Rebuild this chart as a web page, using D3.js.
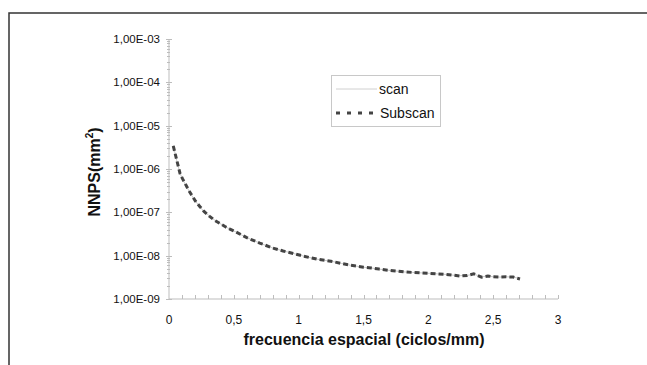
<!DOCTYPE html>
<html><head><meta charset="utf-8">
<script src="https://cdn.jsdelivr.net/npm/d3@7/dist/d3.min.js"></script>
<style>body{margin:0;background:#fff}svg{display:block}text{font-family:"Liberation Sans",Arial,sans-serif}</style>
</head><body><svg id="c" width="647" height="365"></svg>
<script>
// Data
const freq = [0.033,0.06,0.085,0.105,0.123,0.15,0.175,0.205,0.239,0.27,0.311,0.35,0.39,0.432,0.47,0.51,0.56,0.6,0.65,0.7,0.74,0.8,0.88,0.95,1.013,1.08,1.15,1.2,1.265,1.33,1.4,1.45,1.5,1.56,1.62,1.69,1.756,1.82,1.88,1.95,2.01,2.07,2.13,2.19,2.24,2.3,2.35,2.38,2.41,2.46,2.5,2.55,2.6,2.655,2.707];
const subscan = [3.4e-6,1.6e-6,7.9e-7,5.9e-7,4.7e-7,3.3e-7,2.5e-7,1.8e-7,1.35e-7,1.05e-7,8.2e-8,6.6e-8,5.6e-8,4.7e-8,4.1e-8,3.6e-8,3.0e-8,2.6e-8,2.25e-8,1.95e-8,1.76e-8,1.5e-8,1.28e-8,1.14e-8,1.02e-8,9.1e-9,8.2e-9,7.8e-9,7.3e-9,6.6e-9,6.0e-9,5.7e-9,5.4e-9,5.2e-9,4.9e-9,4.6e-9,4.4e-9,4.2e-9,4.1e-9,4.0e-9,3.9e-9,3.8e-9,3.7e-9,3.55e-9,3.4e-9,3.5e-9,3.8e-9,3.5e-9,3.2e-9,3.4e-9,3.25e-9,3.2e-9,3.25e-9,3.2e-9,2.9e-9];
const scan = [3.5e-6,1.55e-6,8.0e-7,5.8e-7,4.6e-7,3.3e-7,2.45e-7,1.8e-7,1.33e-7,1.04e-7,8.3e-8,6.7e-8,5.6e-8,4.7e-8,4.1e-8,3.6e-8,3.0e-8,2.6e-8,2.25e-8,1.95e-8,1.75e-8,1.5e-8,1.29e-8,1.14e-8,1.02e-8,9.1e-9,8.2e-9,7.8e-9,7.3e-9,6.6e-9,6.0e-9,5.7e-9,5.4e-9,5.2e-9,4.9e-9,4.6e-9,4.4e-9,4.2e-9,4.1e-9,4.0e-9,3.9e-9,3.8e-9,3.7e-9,3.55e-9,3.45e-9,3.5e-9,3.75e-9,3.5e-9,3.25e-9,3.4e-9,3.25e-9,3.2e-9,3.25e-9,3.2e-9,2.95e-9];
const xTicks = [0,0.5,1,1.5,2,2.5,3];
const xTickLabels = ["0","0,5","1","1,5","2","2,5","3"];
const yTicks = [1e-9,1e-8,1e-7,1e-6,1e-5,1e-4,1e-3];
const yTickLabels = ["1,00E-09","1,00E-08","1,00E-07","1,00E-06","1,00E-05","1,00E-04","1,00E-03"];
const seriesNames = ["scan","Subscan"];

const svg = d3.select("#c");
// outer frame (open on right/bottom beyond view)
svg.append("path").attr("d","M9,370 L9,13 L652,13").attr("fill","none").attr("stroke","#333").attr("stroke-width",1.5);

const x = d3.scaleLinear().domain([0,3]).range([169,558]);
const y = d3.scaleLog().domain([1e-9,1e-3]).range([299,39]);

const axisColor = "#bdbdbd";
svg.append("line").attr("x1",x(0)).attr("x2",x(0)).attr("y1",y(1e-3)).attr("y2",y(1e-9)).attr("stroke",axisColor);
svg.append("line").attr("x1",x(0)).attr("x2",x(3)).attr("y1",y(1e-9)).attr("y2",y(1e-9)).attr("stroke",axisColor);

// y minor ticks
const yMinor = [];
for (let e=-9;e<-3;e++) for (let m=2;m<=9;m++) yMinor.push(m*Math.pow(10,e));
svg.selectAll(".ymin").data(yMinor).enter().append("line")
  .attr("x1",x(0)-2).attr("x2",x(0)+1).attr("y1",d=>Math.round(y(d))+0.5).attr("y2",d=>Math.round(y(d))+0.5)
  .attr("stroke",axisColor);
svg.selectAll(".ymaj").data(yTicks).enter().append("line")
  .attr("x1",x(0)-3).attr("x2",x(0)+3).attr("y1",d=>Math.round(y(d))+0.5).attr("y2",d=>Math.round(y(d))+0.5)
  .attr("stroke",axisColor);
// x minor ticks
const xMinor = d3.range(1,31).map(i=>i/10);
svg.selectAll(".xmin").data(xMinor).enter().append("line")
  .attr("x1",d=>Math.round(x(d))+0.5).attr("x2",d=>Math.round(x(d))+0.5).attr("y1",y(1e-9)-4).attr("y2",y(1e-9))
  .attr("stroke",axisColor);

// tick labels
svg.selectAll(".yl").data(yTicks).enter().append("text")
  .attr("x",160).attr("y",d=>y(d)).attr("dy","0.35em").attr("text-anchor","end")
  .attr("font-size","11.5px").attr("fill","#111")
  .text((d,i)=>yTickLabels[i]);
svg.selectAll(".xl").data(xTicks).enter().append("text")
  .attr("x",d=>x(d)).attr("y",324).attr("text-anchor","middle")
  .attr("font-size","12px").attr("fill","#111")
  .text((d,i)=>xTickLabels[i]);

// titles
svg.append("text").attr("x",364).attr("y",345).attr("text-anchor","middle")
  .attr("font-size","16px").attr("font-weight","bold").attr("fill","#111")
  .text("frecuencia espacial (ciclos/mm)");
const yt = svg.append("text").attr("transform","translate(100,172) rotate(-90)").attr("text-anchor","middle")
  .attr("font-size","16px").attr("font-weight","bold").attr("fill","#111");
yt.append("tspan").text("NNPS(mm");
yt.append("tspan").attr("font-size","10px").attr("dy","-7").text("2");
yt.append("tspan").attr("dy","7").text(")");

// lines
const line = d3.line().x((d,i)=>x(freq[i])).y(d=>y(d));
svg.append("path").datum(scan).attr("d",line).attr("fill","none").attr("stroke","#c8c8c8").attr("stroke-width",1);
svg.append("path").datum(subscan).attr("d",line).attr("fill","none").attr("stroke","#444").attr("stroke-width",3).attr("stroke-dasharray","5,3");

// legend
const lg = svg.append("g");
lg.append("rect").attr("x",331.5).attr("y",75.5).attr("width",109).attr("height",51).attr("fill","#fff").attr("stroke","#c8c8c8");
lg.append("line").attr("x1",336).attr("x2",377).attr("y1",89).attr("y2",89).attr("stroke","#d0d0d0").attr("stroke-width",1);
lg.append("line").attr("x1",336).attr("x2",380).attr("y1",113).attr("y2",113).attr("stroke","#444").attr("stroke-width",3).attr("stroke-dasharray","4,7");
lg.append("text").attr("x",379).attr("y",89).attr("dy","0.35em").attr("font-size","14px").attr("fill","#111").text(seriesNames[0]);
lg.append("text").attr("x",380).attr("y",113).attr("dy","0.35em").attr("font-size","14px").attr("fill","#111").text(seriesNames[1]);
</script></body></html>
